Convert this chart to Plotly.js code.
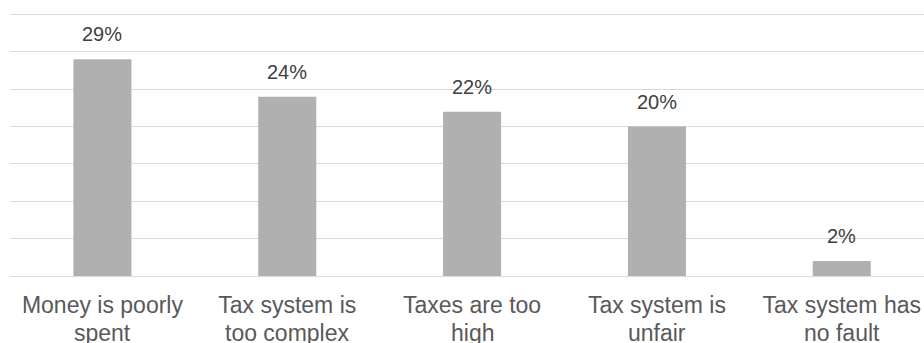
<!DOCTYPE html>
<html><head><meta charset="utf-8">
<script src="https://cdn.plot.ly/plotly-3.0.1.min.js"></script>
<style>html,body{margin:0;padding:0;background:#fff}#chart{width:924px;height:343px}</style>
</head><body><div id="chart"></div>
<script>
const categoriesLine1 = ["Money is poorly", "Tax system is", "Taxes are too", "Tax system is", "Tax system has"];
const categoriesLine2 = ["spent", "too complex", "high", "unfair", "no fault"];
const values = [29, 24, 22, 20, 2];
const valueLabels = ["29%", "24%", "22%", "20%", "2%"];
const yTicks = [0, 5, 10, 15, 20, 25, 30, 35];

const positions = values.map((_, i) => i);
const FONT = 'Liberation Sans, Arial, sans-serif';

const annotations = [];
positions.forEach((p, i) => {
  annotations.push({x: p, y: values[i], xref: 'x', yref: 'y', text: valueLabels[i], showarrow: false,
    yanchor: 'bottom', yshift: 12, font: {family: FONT, size: 20, color: '#404040'}});
  annotations.push({x: p, y: 0, xref: 'x', yref: 'y', text: categoriesLine2[i], showarrow: false,
    yanchor: 'top', yshift: -42, font: {family: FONT, size: 23, color: '#595959'}});
});

Plotly.newPlot('chart', [{
  type: 'bar', x: positions, y: values,
  marker: {color: '#b0b0b0'}, hoverinfo: 'none'
}], {
  width: 924, height: 343,
  margin: {l: 10, r: 0, t: 13, b: 67},
  paper_bgcolor: '#fff', plot_bgcolor: '#fff',
  bargap: 0.686, showlegend: false,
  annotations: annotations,
  xaxis: {range: [-0.5, 4.445], tickmode: 'array', tickvals: positions, ticktext: categoriesLine1,
    tickfont: {family: FONT, size: 23, color: '#595959'}, ticks: '', ticklabelstandoff: 8,
    ticklabeloverflow: 'allow',
    showline: true, linecolor: '#d9d9d9', linewidth: 1, showgrid: false, zeroline: false},
  yaxis: {range: [0, 35.2], tickmode: 'array', tickvals: yTicks, showticklabels: false,
    gridcolor: '#d9d9d9', gridwidth: 1, zeroline: false}
}, {displayModeBar: false, staticPlot: true});
</script></body></html>
